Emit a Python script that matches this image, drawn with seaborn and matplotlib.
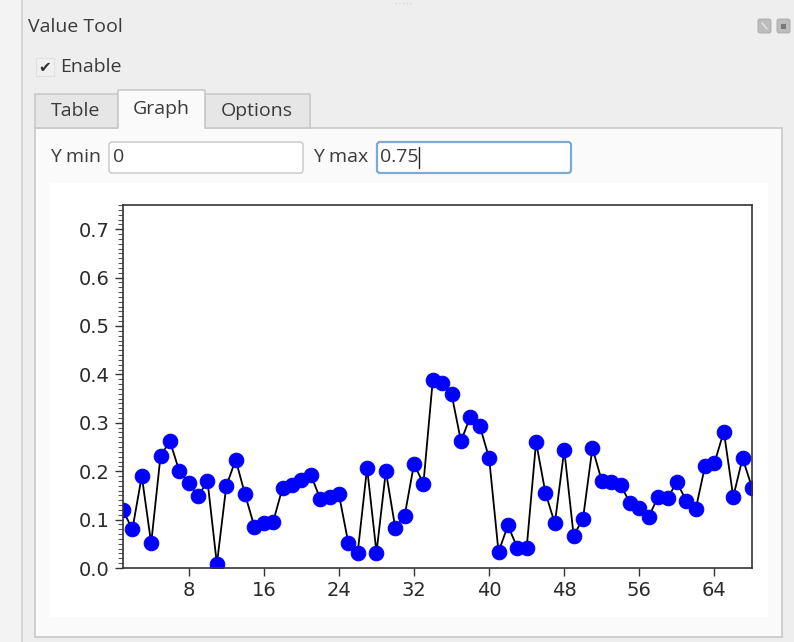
import numpy as np
import pandas as pd
import matplotlib
matplotlib.use("Agg")
import matplotlib.pyplot as plt
import matplotlib.ticker as mticker
from matplotlib.patches import Rectangle, FancyBboxPatch
import seaborn as sns

# ── DATA ─────────────────────────────────────────────────────────────────────
bands = list(range(1, 69))
values = [
    0.119, 0.080, 0.190, 0.051, 0.232, 0.262, 0.200, 0.176, 0.148, 0.180,
    0.008, 0.169, 0.224, 0.152, 0.085, 0.092, 0.096, 0.166, 0.171, 0.182,
    0.193, 0.143, 0.147, 0.152, 0.052, 0.032, 0.207, 0.032, 0.200, 0.083,
    0.108, 0.215, 0.174, 0.389, 0.383, 0.359, 0.262, 0.313, 0.294, 0.227,
    0.033, 0.088, 0.042, 0.042, 0.260, 0.155, 0.092, 0.244, 0.067, 0.102,
    0.248, 0.180, 0.178, 0.171, 0.135, 0.123, 0.106, 0.147, 0.145, 0.177,
    0.139, 0.121, 0.211, 0.217, 0.282, 0.147, 0.227, 0.166,
]
x_ticks = [8, 16, 24, 32, 40, 48, 56, 64]
y_min, y_max = 0, 0.75

df = pd.DataFrame({"band": bands, "value": values})

# ── SETUP ─────────────────────────────────────────────────────────────────────
sns.set_style("ticks")
plt.rcParams["font.family"] = "DejaVu Sans"
W, H = 794, 642
fig = plt.figure(figsize=(W / 100, H / 100), dpi=100)
fig.patch.set_facecolor("#eeeeee")

# background canvas in pixel coordinates for the dock widgets
bg = fig.add_axes([0, 0, 1, 1])
bg.set_xlim(0, W)
bg.set_ylim(H, 0)
bg.axis("off")

ui = dict(family="Open Sans", color="#3a3a3a", fontsize=14, fontweight=500)

bg.add_patch(Rectangle((0, 0), 22, H, facecolor="#f3f3f3", edgecolor="none"))
bg.plot([22, 22], [0, H], color="#d0d0d0", lw=1.2)
bg.plot([395, 412], [3, 3], color="#d8d8d8", lw=1, ls=":")

bg.text(28, 27, "Value Tool", va="center", **ui)
for bx in (758, 777):
    bg.add_patch(FancyBboxPatch((bx, 19), 13, 14, boxstyle="round,pad=0,rounding_size=2",
                                facecolor="#bdbdbd", edgecolor="#a8a8a8", lw=0.6))
bg.plot([762, 767], [23, 29], color="#e8e8e8", lw=1)
bg.add_patch(Rectangle((781, 23.5), 5, 5, facecolor="#7a7a7a", edgecolor="none"))

# checkbox
bg.add_patch(Rectangle((36, 58), 18, 18, facecolor="#f0f0f0", edgecolor="#e0e0e0", lw=0.8))
bg.text(45, 67.5, "\u2714", fontsize=11, color="#333333", ha="center", va="center",
        family="DejaVu Sans")
bg.text(60, 67, "Enable", va="center", **ui)

# tab pane + tabs
bg.add_patch(Rectangle((35, 127.5), 747, 509, facecolor="#fafafa", edgecolor="#c9c9c9", lw=1.2))
bg.add_patch(Rectangle((35, 94), 83, 33.5, facecolor="#e6e6e6", edgecolor="#c9c9c9", lw=1.2))
bg.add_patch(Rectangle((205, 94), 105, 33.5, facecolor="#e6e6e6", edgecolor="#c9c9c9", lw=1.2))
bg.add_patch(Rectangle((118, 90), 87, 39, facecolor="#fafafa", edgecolor="none"))
bg.plot([118, 118, 205, 205], [128, 90, 90, 128], color="#c9c9c9", lw=1.2)
bg.text(76, 111, "Table", ha="center", va="center", **ui)
bg.text(161, 109, "Graph", ha="center", va="center", **ui)
bg.text(257, 111, "Options", ha="center", va="center", **ui)

# Y min / Y max inputs
bg.text(50, 157, "Y min", va="center", **ui)
bg.add_patch(FancyBboxPatch((109, 142), 194, 31, boxstyle="round,pad=0,rounding_size=3",
                            facecolor="white", edgecolor="#c6c6c6", lw=1))
bg.text(113, 157, str(y_min), va="center", **ui)
bg.text(313, 157, "Y max", va="center", **ui)
bg.add_patch(FancyBboxPatch((377, 142), 194, 31, boxstyle="round,pad=0,rounding_size=3",
                            facecolor="white", edgecolor="#7fa9d0", lw=1.6))
bg.text(380, 157, str(y_max), va="center", **ui)
bg.plot([419, 419], [147, 168], color="#222222", lw=1)

# figure canvas area
bg.add_patch(Rectangle((50, 183), 718, 434, facecolor="white", edgecolor="none"))

# ── GRAPH ─────────────────────────────────────────────────────────────────────
ax = fig.add_axes([123 / W, 1 - 568 / H, (752 - 123) / W, (568 - 205) / H])
sns.lineplot(data=df, x="band", y="value", ax=ax, color="black", lw=1.3,
             marker="o", markersize=10.5, markerfacecolor="blue", markeredgecolor="blue")
ax.set_xlim(1, 68)
ax.set_ylim(y_min, y_max)
ax.set_xticks(x_ticks)
ax.yaxis.set_major_locator(mticker.MultipleLocator(0.1))
ax.yaxis.set_minor_locator(mticker.MultipleLocator(0.01))
ax.yaxis.set_major_formatter(mticker.FormatStrFormatter("%.1f"))
ax.tick_params(axis="both", which="major", labelsize=14, length=6, width=1,
               color="#333333", labelcolor="#2a2a2a", direction="out")
ax.tick_params(axis="y", which="minor", length=3.5, width=0.8, color="#555555")
ax.set_xlabel("")
ax.set_ylabel("")
for sp in ax.spines.values():
    sp.set_visible(True)
    sp.set_color("#333333")
    sp.set_linewidth(1.2)
ax.set_facecolor("white")

fig.savefig("out.png", dpi=100, facecolor=fig.get_facecolor())
